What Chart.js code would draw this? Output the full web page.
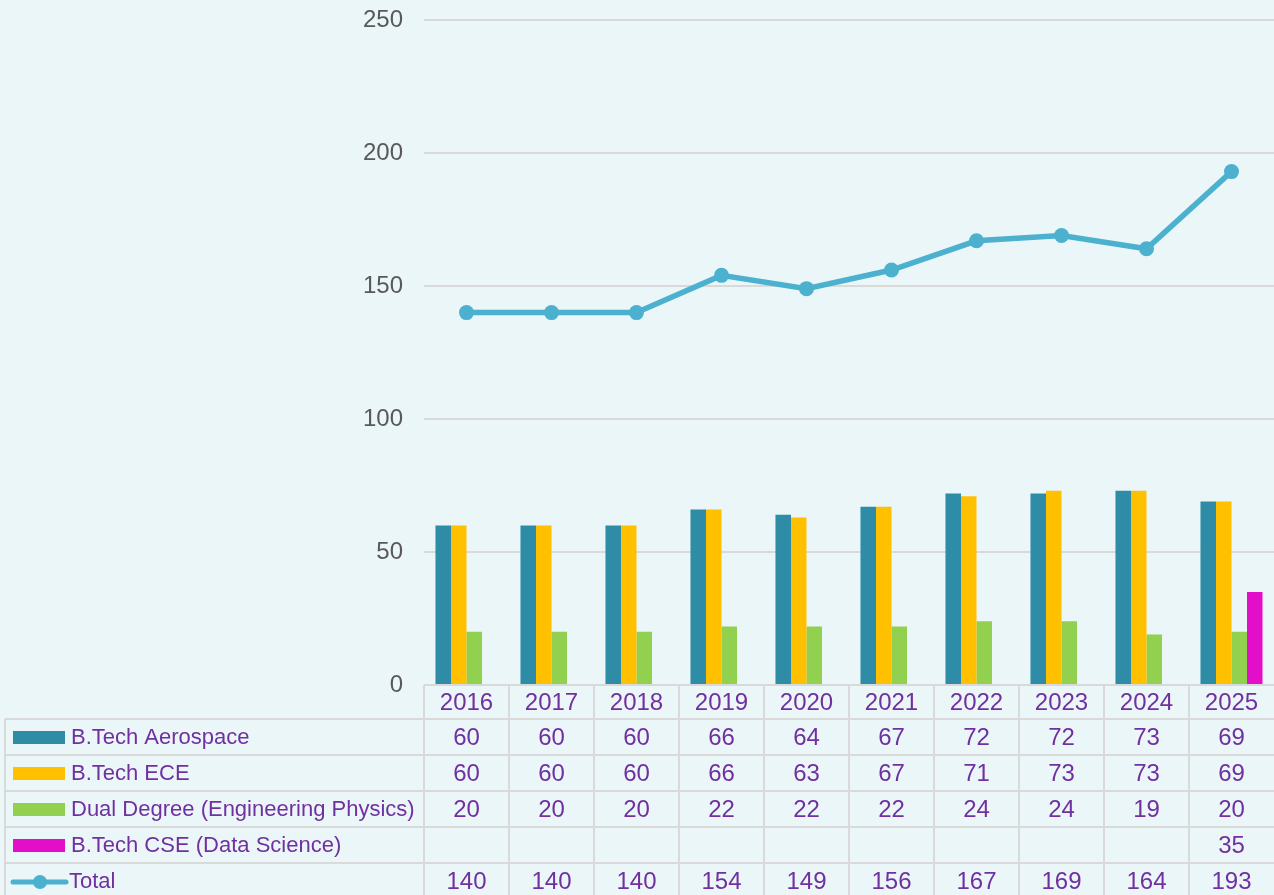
<!DOCTYPE html>
<html>
<head>
<meta charset="utf-8">
<script src="https://cdn.jsdelivr.net/npm/chart.js@4"></script>
<style>
html,body{margin:0;padding:0;background:#EBF6F8;overflow:hidden;}
#wrap{width:1274px;height:895px;position:relative;}
canvas{display:block;}
</style>
</head>
<body>
<div id="wrap"><canvas id="c" width="1274" height="895"></canvas></div>
<script>
const years = ['2016','2017','2018','2019','2020','2021','2022','2023','2024','2025'];
const aerospace = [60,60,60,66,64,67,72,72,73,69];
const ece = [60,60,60,66,63,67,71,73,73,69];
const dualDegree = [20,20,20,22,22,22,24,24,19,20];
const cseDataScience = [null,null,null,null,null,null,null,null,null,35];
const total = [140,140,140,154,149,156,167,169,164,193];
const yTicks = [0,50,100,150,200,250];

const TEXT = '#7030A0';
const GRID = '#D9D9D9';
const FONT = '"Liberation Sans", Arial, sans-serif';

const tablePlugin = {
  id: 'dataTable',
  afterDraw(chart) {
    const ctx = chart.ctx;
    const x = chart.scales.x;
    const area = chart.chartArea;
    const n = years.length;
    const colW = (area.right - area.left) / n;
    const top = area.bottom;
    const headH = 34;
    const rowH = 36;
    const leftX = 5;
    const rows = chart.data.datasets.slice().sort((a,b)=>a.tableRow-b.tableRow);
    const bottom = top + headH + rowH * rows.length;
    ctx.save();
    ctx.strokeStyle = GRID;
    ctx.lineWidth = 2;
    ctx.beginPath();
    ctx.moveTo(area.left, top); ctx.lineTo(area.right + 2, top);
    for (let r = 0; r <= rows.length; r++) {
      const y = top + headH + r * rowH;
      ctx.moveTo(leftX, y); ctx.lineTo(area.right + 2, y);
    }
    ctx.moveTo(leftX, top + headH); ctx.lineTo(leftX, bottom);
    for (let i = 0; i < n; i++) {
      const cx = x.getPixelForValue(i) - colW / 2;
      ctx.moveTo(cx, top); ctx.lineTo(cx, bottom);
    }
    ctx.stroke();

    ctx.textAlign = 'center';
    ctx.textBaseline = 'middle';
    ctx.fillStyle = TEXT;
    ctx.font = '24px ' + FONT;
    years.forEach((yr, i) => {
      ctx.fillText(yr, x.getPixelForValue(i), top + headH / 2 + 1);
    });
    rows.forEach((ds, r) => {
      const cy = top + headH + r * rowH + rowH / 2 + 1;
      if (ds.type === 'line') {
        ctx.strokeStyle = ds.borderColor;
        ctx.lineWidth = 5;
        ctx.lineCap = 'round';
        ctx.beginPath(); ctx.moveTo(13, cy); ctx.lineTo(66, cy); ctx.stroke();
        ctx.fillStyle = ds.borderColor;
        ctx.beginPath(); ctx.arc(40, cy, 7, 0, Math.PI * 2); ctx.fill();
      } else {
        ctx.fillStyle = ds.backgroundColor;
        ctx.fillRect(13, cy - 7, 52, 13);
      }
      ctx.fillStyle = TEXT;
      ctx.textAlign = 'left';
      ctx.font = '22px ' + FONT;
      ctx.fillText(ds.label, ds.type === 'line' ? 69 : 71, cy);
      ctx.textAlign = 'center';
      ctx.font = '24px ' + FONT;
      ds.data.forEach((v, i) => {
        if (v !== null && v !== undefined) ctx.fillText(String(v), x.getPixelForValue(i), cy);
      });
    });
    ctx.restore();
  }
};

new Chart(document.getElementById('c'), {
  data: {
    labels: years,
    datasets: [
      { type: 'line', label: 'Total', data: total, borderColor: '#4BB1CF', backgroundColor: '#4BB1CF',
        borderWidth: 5.5, pointRadius: 7.5, pointBackgroundColor: '#4BB1CF', pointBorderWidth: 0,
        tension: 0, order: 0, tableRow: 4, clip: false },
      { type: 'bar', label: 'B.Tech Aerospace', data: aerospace, backgroundColor: '#2E8CA6', order: 1, tableRow: 0 },
      { type: 'bar', label: 'B.Tech ECE', data: ece, backgroundColor: '#FFC000', order: 1, tableRow: 1 },
      { type: 'bar', label: 'Dual Degree (Engineering Physics)', data: dualDegree, backgroundColor: '#92D050', order: 1, tableRow: 2 },
      { type: 'bar', label: 'B.Tech CSE (Data Science)', data: cseDataScience, backgroundColor: '#E30FC8', order: 1, tableRow: 3 }
    ]
  },
  options: {
    responsive: false,
    animation: false,
    layout: { autoPadding: false, padding: { top: 20, bottom: 210, left: 0, right: 0 } },
    datasets: { bar: { categoryPercentage: 0.73, barPercentage: 1.0 } },
    plugins: { legend: { display: false }, tooltip: { enabled: false } },
    scales: {
      x: { display: false, offset: true, grid: { display: false } },
      y: {
        min: 0, max: 250,
        afterFit(scale) { scale.width = 424; scale.paddingTop = 0; scale.paddingBottom = 0; },
        afterBuildTicks(scale) { scale.ticks = yTicks.map(v => ({ value: v })); },
        border: { display: false },
        grid: { color: GRID, lineWidth: 2, drawTicks: false },
        ticks: { color: '#595959', padding: 21, font: { size: 24, family: FONT } }
      }
    }
  },
  plugins: [tablePlugin]
});
</script>
</body>
</html>
